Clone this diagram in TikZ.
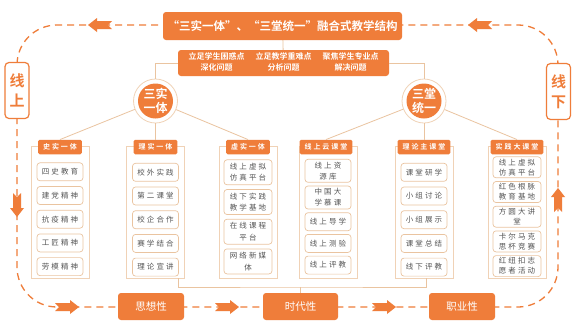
\documentclass[tikz,border=0pt]{standalone}
\usepackage{fontspec}
\setmainfont{Noto Sans CJK SC}[BoldFont={Noto Sans CJK SC Bold}]
\newfontfamily\itemfont{Noto Sans CJK SC}[LetterSpace=27]
\newfontfamily\headfont{Noto Sans CJK SC Bold}[LetterSpace=28]
\usepackage{tikz}
\usetikzlibrary{positioning}
\definecolor{mainorange}{RGB}{239,125,58}
\definecolor{paleline}{RGB}{234,196,160}
\definecolor{framecol}{RGB}{240,210,182}
\definecolor{itemtext}{RGB}{85,85,85}
\tikzset{flow/.pic={\fill[mainorange] (-12,-4) -- (3,-4) -- (3,-7) -- (12,0) -- (3,7) -- (3,4) -- (-12,4) -- (-8,0) -- cycle;}}

\begin{document}
\begin{tikzpicture}[x=1pt, y=-1pt, node distance=3pt,
				link/.style={draw=paleline, line width=0.8pt},
				loop/.style={draw=mainorange, line width=1.3pt, dash pattern=on 7pt off 5pt, rounded corners=40pt},
				topbox/.style={rectangle, fill=mainorange, rounded corners=3pt, text=white, align=center, inner sep=0pt},
				frame/.style={rectangle, draw=framecol, line width=0.8pt, fill=white, minimum width=58pt, minimum height=132pt},
				head/.style={rectangle, fill=mainorange, rounded corners=1.5pt, text=white, font=\headfont\fontsize{7}{8}\selectfont, inner xsep=5pt, inner ysep=0pt, minimum height=14.5pt},
				item/.style={rectangle, draw=paleline, line width=0.7pt, fill=white, rounded corners=3pt, text=itemtext, font=\itemfont\fontsize{7.5}{11}\selectfont, align=center, minimum width=46pt, minimum height=18pt, inner sep=1pt},
				hubring/.style={circle, draw=framecol, line width=0.8pt, fill=white, minimum size=44pt, inner sep=0pt},
				hub/.style={circle, fill=mainorange, minimum size=35pt, inner sep=0pt, text=white, font=\bfseries\fontsize{12}{14}\selectfont, align=center},
				side/.style={rectangle, draw=mainorange, line width=1.2pt, fill=white, rounded corners=4pt, text=mainorange, font=\bfseries\fontsize{15}{20}\selectfont, align=center, minimum width=24pt, minimum height=56pt, inner sep=0pt},
				trait/.style={rectangle, fill=mainorange, rounded corners=3pt, text=white, font=\fontsize{10.5}{12}\selectfont, minimum width=66pt, minimum height=27pt}]

				\fill[white] (0,0) rectangle (586,325);
				\useasboundingbox (0,0) rectangle (586,325);

				\draw[loop] (282,25) -- (17,25) -- (17,307) -- (558,307) -- (558,25) -- cycle;

				\node[topbox, minimum width=239pt, minimum height=28pt, font=\bfseries\fontsize{11.5}{13}\selectfont] (title) at (282.5,26) {“三实一体”、“三堂统一”融合式教学结构};
				\node[topbox, minimum width=211pt, minimum height=26pt, font=\bfseries\fontsize{8}{11}\selectfont] (aims) at (283.5,63) {\begin{tabular}{@{}c@{\hspace{11pt}}c@{\hspace{11pt}}c@{}}立足学生困惑点 & 立足教学重难点 & 聚焦学生专业点\\ 深化问题 & 分析问题 & 解决问题\end{tabular}};

				\node[hubring] (sy) at (155.5,101) {};
				\node[hub] (syc) at (sy) {三实\\一体};
				\node[hubring] (st) at (424,101) {};
				\node[hub] (stc) at (st) {三堂\\统一};

				\draw[link] (title) -- (aims);
				\draw[link] (aims.west) -| (sy);
				\draw[link] (aims.east) -| (st);

				\node[frame] (f1) at (60,212) {};
				\node[frame] (f2) at (155.5,212) {};
				\node[frame] (f3) at (248,212) {};
				\node[frame] (f4) at (328,212) {};
				\node[frame] (f5) at (424,212) {};
				\node[frame] (f6) at (517,212) {};

				\node[head] (shishi) at (60,147) {史实一体};
				\node[head] (lishi) at (155.5,147) {理实一体};
				\node[head] (xushi) at (248,147) {虚实一体};
				\node[head] (yun) at (326,147) {线上云课堂};
				\node[head] (zhu) at (424,147) {理论主课堂};
				\node[head] (da) at (517,147) {实践大课堂};

				\draw[link] (sy) -- (shishi.north);
				\draw[link] (sy) -- (lishi.north);
				\draw[link] (sy) -- (xushi.north);
				\draw[link] (st) -- (yun.north);
				\draw[link] (st) -- (zhu.north);
				\draw[link] (st) -- (da.north);

				\node[item, below=8pt of shishi] (a1) {四史教育};
				\node[item, below=5pt of a1] (a2) {建党精神};
				\node[item, below=5pt of a2] (a3) {抗疫精神};
				\node[item, below=5pt of a3] (a4) {工匠精神};
				\node[item, below=5pt of a4] (a5) {劳模精神};

				\node[item, below=8.5pt of lishi] (b1) {校外实践};
				\node[item, below=5pt of b1] (b2) {第二课堂};
				\node[item, below=5pt of b2] (b3) {校企合作};
				\node[item, below=5pt of b3] (b4) {赛学结合};
				\node[item, below=5pt of b4] (b5) {理论宣讲};

				\node[item, minimum width=48pt, minimum height=25pt, font=\itemfont\fontsize{7.5}{11.5}\selectfont, below=5pt of xushi] (c1) {线上虚拟\\仿真平台};
				\node[item, minimum width=48pt, minimum height=25pt, font=\itemfont\fontsize{7.5}{11.5}\selectfont, below=4pt of c1] (c2) {线下实践\\教学基地};
				\node[item, minimum width=48pt, minimum height=25pt, font=\itemfont\fontsize{7.5}{11.5}\selectfont, below=4pt of c2] (c3) {在线课程\\平台};
				\node[item, minimum width=48pt, minimum height=25pt, font=\itemfont\fontsize{7.5}{11.5}\selectfont, below=4pt of c3] (c4) {网络新媒\\体};

				\node[item, minimum height=23pt, below=4.5pt of yun.south -| f4] (d1) {线上资\\源库};
				\node[item, minimum height=23pt, below=of d1] (d2) {中国大\\学慕课};
				\node[item, below=of d2] (d3) {线上导学};
				\node[item, below=of d3] (d4) {线上测验};
				\node[item, below=of d4] (d5) {线上评教};

				\node[item, below=8.5pt of zhu] (e1) {课堂研学};
				\node[item, below=5pt of e1] (e2) {小组讨论};
				\node[item, below=5pt of e2] (e3) {小组展示};
				\node[item, below=5pt of e3] (e4) {课堂总结};
				\node[item, below=5pt of e4] (e5) {线下评教};

				\node[item, minimum width=48pt, minimum height=21pt, font=\itemfont\fontsize{7.5}{10}\selectfont, below=2pt of da] (g1) {线上虚拟\\仿真平台};
				\node[item, minimum width=48pt, minimum height=21pt, font=\itemfont\fontsize{7.5}{10}\selectfont, below=of g1] (g2) {红色根脉\\教育基地};
				\node[item, minimum width=48pt, minimum height=21pt, font=\itemfont\fontsize{7.5}{10}\selectfont, below=of g2] (g3) {方圆大讲\\堂};
				\node[item, minimum width=48pt, minimum height=21pt, font=\itemfont\fontsize{7.5}{10}\selectfont, below=of g3] (g4) {卡尔马克\\思杯竞赛};
				\node[item, minimum width=48pt, minimum height=21pt, font=\itemfont\fontsize{7.5}{10}\selectfont, below=of g4] (g5) {红纽扣志\\愿者活动};

				\node[side] (on) at (17,90.5) {线\\上};
				\node[side] (off) at (558.5,91.5) {线\\下};

				\node[trait] (sx) at (151,306.5) {思想性};
				\node[trait, minimum width=75pt] (sd) at (300.5,306.5) {时代性};
				\node[trait] (zy) at (462,306.5) {职业性};

				\coordinate (lk) at (178,278);
				\coordinate (rk) at (426,278);
				\coordinate (mid) at (300.5,287);
				\draw[link] (lk) |- (mid) -| (rk);
				\draw[link] (mid) -- (sd);

				\pic at (67,307) {flow};
				\pic at (227,307) {flow};
				\pic at (384,307) {flow};
				\pic[rotate=180] at (100,25) {flow};
				\pic[rotate=180] at (480,25) {flow};
				\pic[rotate=-90] at (17,205) {flow};
				\pic[rotate=90] at (558,200) {flow};
			\end{tikzpicture}
\end{document}
